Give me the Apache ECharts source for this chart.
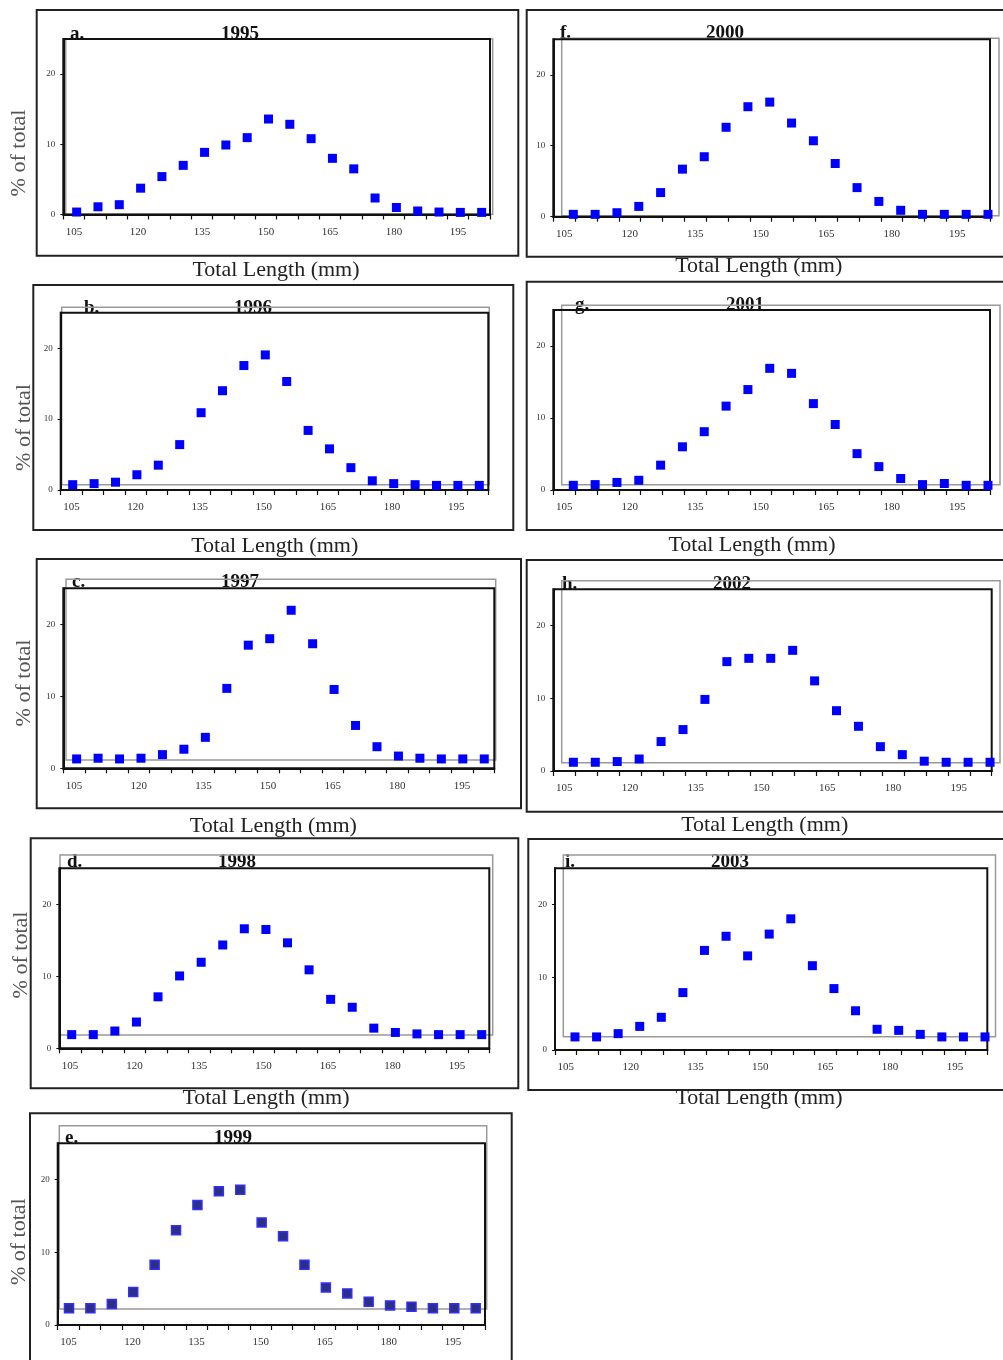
<!DOCTYPE html>
<html>
<head>
<meta charset="utf-8">
<script src="https://cdn.jsdelivr.net/npm/echarts@6/dist/echarts.min.js"></script>
<style>
html,body{margin:0;padding:0;background:#fff;}
#chart{width:1003px;height:1360px;}
</style>
</head>
<body>
<div id="chart"></div>
<script>
// ---- data ----
const lengthLabels = ['105','110','115','120','125','130','135','140','145','150','155','160','165','170','175','180','185','190','195','200'];
const yTickValues = [0, 10, 20];
const pct1995 = [0.35,1.1,1.4,3.75,5.4,7.0,8.85,9.9,10.95,13.6,12.85,10.8,8.0,6.5,2.35,1.0,0.5,0.35,0.3,0.3];
const pct1996 = [0.75,0.9,1.1,2.15,3.5,6.4,10.9,14.0,17.55,19.05,15.3,8.4,5.8,3.15,1.3,0.9,0.75,0.65,0.65,0.65];
const pct1997 = [1.3,1.4,1.3,1.4,1.9,2.65,4.3,11.1,17.1,18.0,21.95,17.3,10.95,5.95,3.0,1.7,1.4,1.3,1.3,1.3];
const pct1998 = [1.9,1.9,2.4,3.65,7.15,10.05,11.95,14.35,16.6,16.5,14.65,10.9,6.8,5.7,2.8,2.2,2.0,1.9,1.9,1.9];
const pct1999 = [2.3,2.3,2.9,4.55,8.3,13.05,16.5,18.4,18.6,14.1,12.2,8.3,5.15,4.35,3.2,2.7,2.5,2.3,2.3,2.3];
const pct2000 = [0.33,0.33,0.56,1.45,3.4,6.7,8.45,12.6,15.5,16.15,13.2,10.7,7.5,4.1,2.15,0.9,0.33,0.33,0.33,0.33];
const pct2001 = [0.65,0.75,1.05,1.35,3.45,6.0,8.1,11.65,13.95,16.9,16.2,12.0,9.1,5.05,3.25,1.6,0.75,0.9,0.65,0.65];
const pct2002 = [1.2,1.2,1.3,1.65,4.05,5.7,9.85,15.05,15.5,15.5,16.6,12.4,8.3,6.15,3.35,2.25,1.35,1.2,1.2,1.2];
const pct2003 = [1.8,1.8,2.25,3.25,4.5,7.9,13.7,15.65,12.95,15.95,18.05,11.6,8.45,5.4,2.85,2.7,2.15,1.8,1.8,1.8];
const xTitle = 'Total Length (mm)';
const yTitle = '% of total';

// ---- layout (pixels) ----
const panels = [
  {letter:'a.', year:'1995', values:pct1995, frame:[63.3,39,490,214.5], dataX:[66,492.3], gray:[65.7,39,492.7,214.3], box:[36.7,10,518.3,255.7], title:[70,240,34], xname:[276,270], yname:[19,153], dark:false},
  {letter:'b.', year:'1996', values:pct1996, frame:[60.7,312.7,488.3,490], dataX:[62,490], gray:[61.7,307.3,489.3,484.7], box:[33.3,285,513.3,530], title:[84,253,308.5], xname:[274.7,546.7], yname:[24.5,427.5], dark:false},
  {letter:'c.', year:'1997', values:pct1997, frame:[63.3,588.3,494.3,768.3], dataX:[65.9,495], gray:[66,579.3,495.7,760], box:[36.7,559,521,808.3], title:[72,240,582.5], xname:[273.3,826.7], yname:[24,683], dark:false},
  {letter:'d.', year:'1998', values:pct1998, frame:[59.3,868.3,489.3,1048.3], dataX:[60.9,492.5], gray:[60,855,492.7,1035], box:[30.7,838.3,518.3,1088.3], title:[67,237,862], xname:[266,1098], yname:[21,955], dark:false},
  {letter:'e.', year:'1999', values:pct1999, frame:[57.7,1143.3,485,1325], dataX:[58.3,486.4], gray:[59.3,1125.7,486.7,1309], box:[30,1113.3,511.7,1400], title:[65,233,1138], xname:null, yname:[19,1241.7], dark:true},
  {letter:'f.', year:'2000', values:pct2000, frame:[553.3,39.3,990,216.7], dataX:[562.4,998.9], gray:[561.7,38.3,999,215.7], box:[526.7,10,1030,256.7], title:[560,725,33], xname:[758.7,266.7], yname:null, dark:false},
  {letter:'g.', year:'2001', values:pct2001, frame:[553.3,310,990,490], dataX:[562.4,998.9], gray:[561.7,305.3,1000,484.7], box:[526.7,281.7,1030,530], title:[575,745,305.5], xname:[752,545], yname:null, dark:false},
  {letter:'h.', year:'2002', values:pct2002, frame:[553.3,589.3,991.7,771], dataX:[562.4,1001], gray:[561.7,580.7,1000,762.7], box:[526.7,560,1030,811.7], title:[562,732,584.5], xname:[764.7,825], yname:null, dark:false},
  {letter:'i.', year:'2003', values:pct2003, frame:[555,868.3,987.3,1050], dataX:[564.2,995.8], gray:[563.3,855,995.5,1036.7], box:[528.3,839,1030,1090], title:[565,730,862], xname:[759,1098], yname:null, dark:false}
];

const serif = "'Liberation Serif', 'DejaVu Serif', serif";
const grids = [], xAxes = [], yAxes = [], series = [], graphics = [];

panels.forEach((p, i) => {
  const f = p.frame;
  const top = f[1], height = f[3] - f[1];
  grids.push({left: f[0], top: top, width: f[2] - f[0], height: height, z: 4,
    show: true, borderColor: '#111', borderWidth: 2, backgroundColor: 'transparent', containLabel: false});
  grids.push({left: p.dataX[0], top: top, width: p.dataX[1] - p.dataX[0], height: height, containLabel: false});

  xAxes.push({type: 'category', gridIndex: 2 * i, data: lengthLabels, boundaryGap: true, z: 4,
    axisLine: {show: true, lineStyle: {color: '#111', width: 2}},
    axisTick: {show: true, interval: 0, length: 5, lineStyle: {color: '#111', width: 1.2}},
    axisLabel: {interval: 2, fontFamily: serif, fontSize: 11, color: '#333', margin: 12},
    splitLine: {show: false}});
  xAxes.push({type: 'category', gridIndex: 2 * i + 1, data: lengthLabels, boundaryGap: true, show: false});

  yAxes.push({type: 'value', gridIndex: 2 * i, min: 0, max: 25, interval: 10, z: 4,
    axisLine: {show: true, lineStyle: {color: '#111', width: 2}},
    axisTick: {show: true, length: 3, customValues: yTickValues, lineStyle: {color: '#111', width: 1}},
    axisLabel: {customValues: yTickValues, fontFamily: serif, fontSize: 9, color: '#333', margin: 8},
    splitLine: {show: false}});
  yAxes.push({type: 'value', gridIndex: 2 * i + 1, min: 0, max: 25, show: false, splitLine: {show: false}});

  series.push({type: 'scatter', xAxisIndex: 2 * i + 1, yAxisIndex: 2 * i + 1,
    data: p.values, symbol: 'rect', symbolSize: 9, z: 5,
    emphasis: {disabled: true},
    itemStyle: p.dark ? {color: '#2e2e88', borderColor: '#2f2fff', borderWidth: 1.5, opacity: 1}
                      : {color: '#0000ff', borderWidth: 0, opacity: 1}});

  const b = p.box, g = p.gray;
  graphics.push({type: 'rect', z: 1, silent: true,
    shape: {x: b[0], y: b[1], width: b[2] - b[0], height: b[3] - b[1]},
    style: {fill: 'none', stroke: '#222', lineWidth: 2}});
  graphics.push({type: 'rect', z: 1, silent: true,
    shape: {x: g[0], y: g[1], width: g[2] - g[0], height: g[3] - g[1]},
    style: {fill: 'none', stroke: '#999', lineWidth: 1.5}});
  graphics.push({type: 'text', z: 0, silent: true, x: p.title[0], y: p.title[2],
    style: {text: p.letter, font: 'bold 19px ' + serif, fill: '#111', textAlign: 'left', textVerticalAlign: 'middle'}});
  graphics.push({type: 'text', z: 0, silent: true, x: p.title[1], y: p.title[2],
    style: {text: p.year, font: 'bold 19px ' + serif, fill: '#111', textAlign: 'center', textVerticalAlign: 'middle'}});
  if (p.xname) {
    graphics.push({type: 'text', z: 1, silent: true, x: p.xname[0], y: p.xname[1],
      style: {text: xTitle, font: '22px ' + serif, fill: '#222', textAlign: 'center', textVerticalAlign: 'middle'}});
  }
  if (p.yname) {
    graphics.push({type: 'text', z: 1, silent: true, x: p.yname[0], y: p.yname[1], rotation: Math.PI / 2,
      style: {text: yTitle, font: '22px ' + serif, fill: '#555', textAlign: 'center', textVerticalAlign: 'middle'}});
  }
});

const chart = echarts.init(document.getElementById('chart'), null, {renderer: 'canvas'});
chart.setOption({
  animation: false,
  backgroundColor: '#fff',
  grid: grids,
  xAxis: xAxes,
  yAxis: yAxes,
  series: series,
  graphic: {elements: graphics}
});
</script>
</body>
</html>
